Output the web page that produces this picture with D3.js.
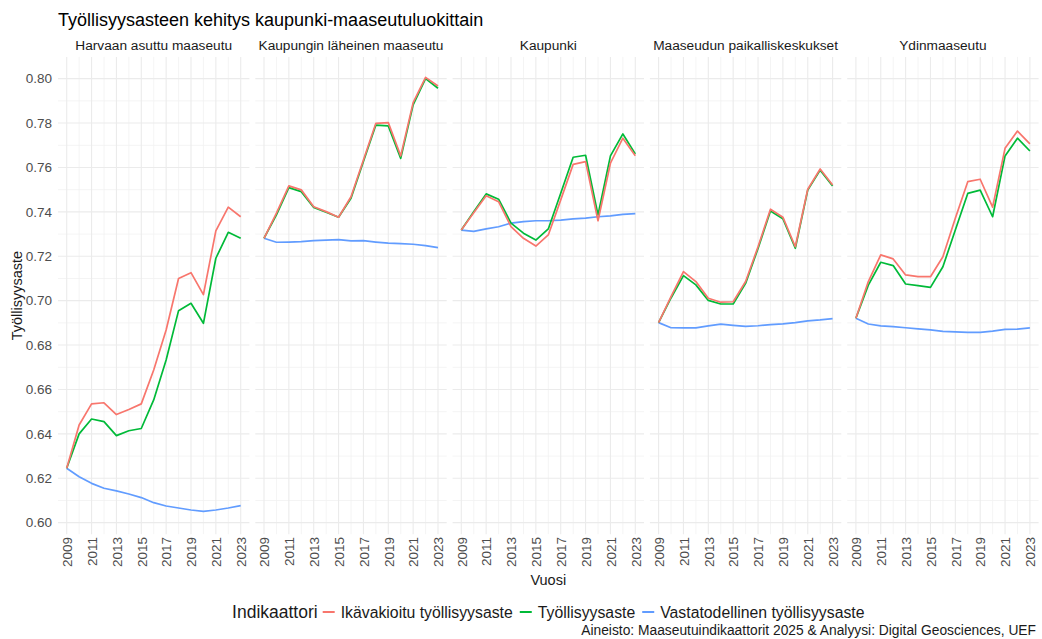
<!DOCTYPE html>
<html>
<head>
<meta charset="utf-8">
<script src="https://cdn.jsdelivr.net/npm/d3@7"></script>
<style>
  body { margin: 0; background: #fff; }
  text { font-family: "Liberation Sans", Arial, sans-serif; }
</style>
</head>
<body>
<svg id="chart" width="1042" height="639"></svg>
<script>
const years = [2009, 2010, 2011, 2012, 2013, 2014, 2015, 2016, 2017, 2018, 2019, 2020, 2021, 2022, 2023];
const categories = ["Harvaan asuttu maaseutu", "Kaupungin läheinen maaseutu", "Kaupunki", "Maaseudun paikalliskeskukset", "Ydinmaaseutu"];
const indicators = ["Ikävakioitu työllisyysaste", "Työllisyysaste", "Vastatodellinen työllisyysaste"];

// one row per category, one value per year
const ikavakioitu = [
  [0.6245, 0.6440, 0.6535, 0.6540, 0.6487, 0.6510, 0.6535, 0.6688, 0.6868, 0.7100, 0.7126, 0.7027, 0.7314, 0.7421, 0.7378],
  [0.7281, 0.7394, 0.7517, 0.7499, 0.7423, 0.7401, 0.7376, 0.7468, 0.7634, 0.7799, 0.7802, 0.7652, 0.7892, 0.8006, 0.7967],
  [0.7318, 0.7396, 0.7473, 0.7446, 0.7333, 0.7281, 0.7246, 0.7296, 0.7454, 0.7614, 0.7626, 0.7360, 0.7619, 0.7732, 0.7653],
  [0.6901, 0.7018, 0.7131, 0.7086, 0.7011, 0.6993, 0.6995, 0.7086, 0.7243, 0.7412, 0.7376, 0.7243, 0.7502, 0.7593, 0.7521],
  [0.6921, 0.7086, 0.7206, 0.7188, 0.7116, 0.7108, 0.7108, 0.7198, 0.7371, 0.7536, 0.7547, 0.7421, 0.7686, 0.7764, 0.7706]
];
const tyollisyys = [
  [0.6245, 0.6400, 0.6467, 0.6455, 0.6392, 0.6414, 0.6424, 0.6553, 0.6733, 0.6955, 0.6988, 0.6898, 0.7191, 0.7308, 0.7281],
  [0.7281, 0.7386, 0.7509, 0.7491, 0.7420, 0.7398, 0.7376, 0.7461, 0.7627, 0.7791, 0.7787, 0.7641, 0.7882, 0.8000, 0.7957],
  [0.7318, 0.7401, 0.7481, 0.7457, 0.7349, 0.7304, 0.7273, 0.7323, 0.7484, 0.7646, 0.7655, 0.7386, 0.7652, 0.7751, 0.7661],
  [0.6901, 0.7012, 0.7113, 0.7071, 0.7001, 0.6985, 0.6985, 0.7078, 0.7235, 0.7404, 0.7369, 0.7236, 0.7498, 0.7588, 0.7517],
  [0.6921, 0.7070, 0.7173, 0.7158, 0.7075, 0.7068, 0.7060, 0.7153, 0.7318, 0.7483, 0.7498, 0.7378, 0.7652, 0.7732, 0.7674]
];
const vastatodellinen = [
  [0.6245, 0.6207, 0.6177, 0.6155, 0.6143, 0.6129, 0.6113, 0.6090, 0.6075, 0.6066, 0.6057, 0.6051, 0.6057, 0.6066, 0.6077],
  [0.7281, 0.7263, 0.7264, 0.7266, 0.7270, 0.7273, 0.7275, 0.7269, 0.7270, 0.7264, 0.7259, 0.7257, 0.7254, 0.7248, 0.7239],
  [0.7318, 0.7312, 0.7323, 0.7333, 0.7349, 0.7356, 0.7360, 0.7360, 0.7363, 0.7368, 0.7372, 0.7378, 0.7382, 0.7389, 0.7392],
  [0.6901, 0.6878, 0.6877, 0.6877, 0.6886, 0.6894, 0.6889, 0.6884, 0.6887, 0.6892, 0.6895, 0.6901, 0.6909, 0.6913, 0.6919],
  [0.6921, 0.6895, 0.6886, 0.6883, 0.6878, 0.6873, 0.6868, 0.6862, 0.6859, 0.6857, 0.6857, 0.6863, 0.6871, 0.6872, 0.6877]
];
const yTicks = [0.60, 0.62, 0.64, 0.66, 0.68, 0.70, 0.72, 0.74, 0.76, 0.78, 0.80];
const xTicks = [2009, 2011, 2013, 2015, 2017, 2019, 2021, 2023];

const colors = ["#F8766D", "#00BA38", "#619CFF"];
const seriesData = [ikavakioitu, tyollisyys, vastatodellinen];

const svg = d3.select("#chart");
const plotLeft = 58;
const plotRight = 1038.6;
const panelGap = 5.9;
const plotTop = 56.9;
const plotBottom = 534.2;

const panelScale = d3.scaleBand()
  .domain(categories)
  .range([plotLeft, plotRight + panelGap])
  .paddingInner(0);
const panelWidth = panelScale.bandwidth() - panelGap;

const xScale = d3.scaleLinear()
  .domain([2009 - 0.7, 2023 + 0.7])
  .range([0, panelWidth]);

const yScale = d3.scaleLinear()
  .domain([0.5948, 0.8098])
  .range([plotBottom, plotTop]);

const yMinor = d3.range(0.61, 0.80, 0.02);
const xMinor = d3.range(2010, 2023, 2);

const line = d3.line()
  .x((d, i) => xScale(years[i]))
  .y(d => yScale(d));

// title
svg.append("text")
  .attr("x", 58)
  .attr("y", 26)
  .style("font-size", "18px")
  .attr("fill", "#000")
  .text("Työllisyysasteen kehitys kaupunki-maaseutuluokittain");

categories.forEach((cat, c) => {
  const g = svg.append("g")
    .attr("transform", `translate(${panelScale(cat)},0)`);

  // grid
  g.selectAll(".ymin").data(yMinor).enter().append("line")
    .attr("x1", 0).attr("x2", panelWidth)
    .attr("y1", d => yScale(d)).attr("y2", d => yScale(d))
    .attr("stroke", "#f1f1f1").attr("stroke-width", 0.8);
  g.selectAll(".xmin").data(xMinor).enter().append("line")
    .attr("x1", d => xScale(d)).attr("x2", d => xScale(d))
    .attr("y1", plotTop).attr("y2", plotBottom)
    .attr("stroke", "#f1f1f1").attr("stroke-width", 0.8);
  g.selectAll(".ymaj").data(yTicks).enter().append("line")
    .attr("x1", 0).attr("x2", panelWidth)
    .attr("y1", d => yScale(d)).attr("y2", d => yScale(d))
    .attr("stroke", "#ebebeb").attr("stroke-width", 1.1);
  g.selectAll(".xmaj").data(xTicks).enter().append("line")
    .attr("x1", d => xScale(d)).attr("x2", d => xScale(d))
    .attr("y1", plotTop).attr("y2", plotBottom)
    .attr("stroke", "#ebebeb").attr("stroke-width", 1.1);

  // strip label
  g.append("text")
    .attr("x", panelWidth / 2)
    .attr("y", 50)
    .attr("text-anchor", "middle")
    .style("font-size", "13.7px")
    .attr("fill", "#1a1a1a")
    .text(cat);

  // lines: blue, green, then red on top
  [2, 1, 0].forEach(s => {
    g.append("path")
      .datum(seriesData[s][c])
      .attr("fill", "none")
      .attr("stroke", colors[s])
      .attr("stroke-width", 1.7)
      .attr("stroke-linejoin", "round")
      .attr("d", line);
  });

  // x axis
  const xAxis = g.append("g")
    .attr("transform", `translate(0,537)`)
    .call(d3.axisBottom(xScale).tickValues(xTicks).tickSize(0).tickPadding(0).tickFormat(d3.format("d")));
  xAxis.select(".domain").remove();
  xAxis.selectAll("text")
    .attr("transform", "rotate(-90)")
    .attr("text-anchor", "end")
    .attr("x", 0)
    .attr("y", 0)
    .attr("dy", "0.35em")
    .style("font-size", "13.5px")
    .style("font-family", "Liberation Sans, Arial, sans-serif")
    .attr("fill", "#4d4d4d");

  if (c === 0) {
    const yAxis = g.append("g")
      .call(d3.axisLeft(yScale).tickValues(yTicks).tickSize(0).tickPadding(6).tickFormat(d3.format(".2f")));
    yAxis.select(".domain").remove();
    yAxis.selectAll("text")
      .style("font-size", "13.5px")
      .style("font-family", "Liberation Sans, Arial, sans-serif")
      .attr("fill", "#4d4d4d");
  }
});

// axis titles
svg.append("text")
  .attr("x", (plotLeft + plotRight) / 2)
  .attr("y", 585)
  .attr("text-anchor", "middle")
  .style("font-size", "14.5px")
  .attr("fill", "#1a1a1a")
  .text("Vuosi");

svg.append("text")
  .attr("transform", `translate(22,${(plotTop + plotBottom) / 2}) rotate(-90)`)
  .attr("text-anchor", "middle")
  .style("font-size", "14.5px")
  .attr("fill", "#1a1a1a")
  .text("Työllisyysaste");

// legend
const legend = svg.append("g").attr("transform", "translate(0,612)");
const legendTitle = legend.append("text")
  .attr("y", 6)
  .style("font-size", "17.5px")
  .attr("fill", "#1a1a1a")
  .text("Indikaattori");
let cursor = legendTitle.node().getComputedTextLength() + 5;
indicators.forEach((name, i) => {
  const item = legend.append("g").attr("transform", `translate(${cursor},0)`);
  item.append("line")
    .attr("x1", 0).attr("x2", 12)
    .attr("y1", 0).attr("y2", 0)
    .attr("stroke", colors[i]).attr("stroke-width", 2);
  const t = item.append("text")
    .attr("x", 18)
    .attr("y", 5.5)
    .style("font-size", "15.8px")
    .attr("fill", "#1a1a1a")
    .text(name);
  cursor += 18 + t.node().getComputedTextLength() + 7;
});
const legendWidth = cursor - 7;
legend.attr("transform", `translate(${(plotLeft + plotRight) / 2 - legendWidth / 2},612)`);

// caption
svg.append("text")
  .attr("x", 1036)
  .attr("y", 635)
  .attr("text-anchor", "end")
  .style("font-size", "13.8px")
  .attr("fill", "#1a1a1a")
  .text("Aineisto: Maaseutuindikaattorit 2025 & Analyysi: Digital Geosciences, UEF");
</script>
</body>
</html>
